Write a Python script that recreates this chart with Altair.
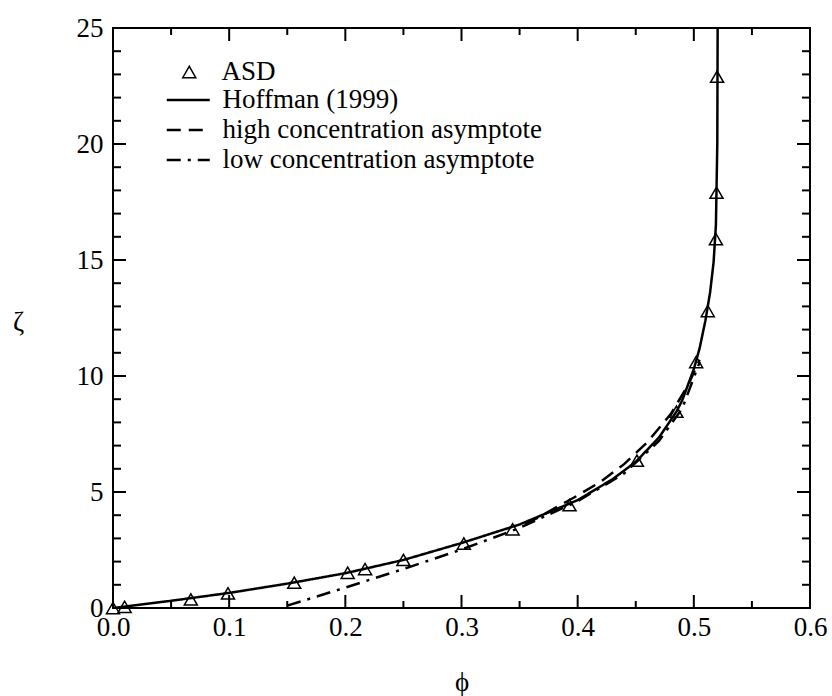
import altair as alt
import pandas as pd

# ---------------- data ----------------
asd_phi = [0.0, 0.01, 0.067, 0.099, 0.156, 0.202, 0.217, 0.250, 0.302, 0.344,
           0.393, 0.451, 0.485, 0.502, 0.512, 0.519, 0.5195, 0.520]
asd_zeta = [0.0, 0.05, 0.37, 0.63, 1.09, 1.52, 1.68, 2.07, 2.78, 3.39,
            4.43, 6.35, 8.46, 10.6, 12.8, 15.9, 17.9, 22.9]

hoffman_phi = [0.0, 0.05, 0.10, 0.15, 0.20, 0.25, 0.30, 0.35, 0.40, 0.43, 0.45,
               0.47, 0.485, 0.49, 0.50, 0.505, 0.51, 0.514, 0.517, 0.519, 0.5202, 0.5205]
hoffman_zeta = [0.0, 0.31, 0.65, 1.05, 1.50, 2.07, 2.80, 3.60, 4.65, 5.55, 6.30,
                7.35, 8.46, 8.95, 10.3, 11.2, 12.4, 13.6, 14.9, 16.5, 20.0, 25.0]

high_phi = [0.355, 0.37, 0.38, 0.40, 0.42, 0.44, 0.46, 0.48, 0.495, 0.505]
high_zeta = [3.62, 4.0, 4.3, 4.85, 5.45, 6.2, 7.15, 8.35, 9.6, 10.7]

low_phi = [0.15, 0.20, 0.25, 0.30, 0.35, 0.40, 0.44, 0.47, 0.49, 0.505]
low_zeta = [0.1, 0.88, 1.68, 2.52, 3.45, 4.6, 5.8, 7.2, 8.6, 10.6]

series_names = ["Hoffman (1999)", "high concentration asymptote", "low concentration asymptote"]
point_name = "ASD"

x_major = [0.0, 0.1, 0.2, 0.3, 0.4, 0.5, 0.6]
x_minor = [0.05, 0.15, 0.25, 0.35, 0.45, 0.55]
y_major = [0, 5, 10, 15, 20, 25]
y_minor = [v for v in range(1, 25) if v % 5 != 0]

# ---------------- tables ----------------
rows = []
for name, px, pz in zip(series_names, [hoffman_phi, high_phi, low_phi],
                        [hoffman_zeta, high_zeta, low_zeta]):
    for i, (a, b) in enumerate(zip(px, pz)):
        rows.append({"series": name, "phi": a, "zeta": b, "idx": i})
lines_df = pd.DataFrame(rows)
pts_df = pd.DataFrame({"series": point_name, "phi": asd_phi, "zeta": asd_zeta})
xmaj_df = pd.DataFrame({"phi": x_major})
xmin_df = pd.DataFrame({"phi": x_minor})
ymaj_df = pd.DataFrame({"zeta": y_major})
ymin_df = pd.DataFrame({"zeta": y_minor})

FONT = "Liberation Serif"
FS = 27
W, H = 697, 580

xs = alt.Scale(domain=[0, 0.6], nice=False, zero=False)
ys = alt.Scale(domain=[0, 25], nice=False, zero=False)

x_axis = alt.Axis(values=x_major, format=".1f", title="ϕ", ticks=False, domain=False,
                  grid=False, labelFont=FONT, labelFontSize=FS, labelColor="black",
                  labelPadding=6, labelFlush=False, labelOverlap=False,
                  titleFont=FONT, titleFontSize=27, titleFontWeight="normal",
                  titleColor="black", titleY=74, titleBaseline="middle")
y_axis = alt.Axis(values=y_major, format="d", title="ζ", ticks=False, domain=False,
                  grid=False, labelFont=FONT, labelFontSize=FS, labelColor="black",
                  labelPadding=10, labelFlush=False, labelOverlap=False,
                  titleFont=FONT, titleFontSize=27, titleFontWeight="normal",
                  titleColor="black", titleAngle=0, titleX=-95, titleY=294,
                  titleAlign="center", titleBaseline="middle")

X = lambda: alt.X("phi:Q", scale=xs, axis=x_axis)
Y = lambda: alt.Y("zeta:Q", scale=ys, axis=y_axis)

lines = alt.Chart(lines_df).mark_line(color="black", strokeWidth=2.5, clip=True).encode(
    x=X(), y=Y(),
    order=alt.Order("idx:Q"),
    strokeDash=alt.StrokeDash(
        "series:N",
        scale=alt.Scale(domain=series_names, range=[[1, 0], [14, 8], [14, 7, 3, 7]]),
        legend=alt.Legend(title=None, orient="none", legendX=52.25, legendY=57,
                          direction="vertical", columns=1, padding=0,
                          symbolType="stroke", symbolSize=1849, symbolStrokeWidth=2.5,
                          symbolStrokeColor="black", clipHeight=30, rowPadding=0,
                          labelFont=FONT, labelFontSize=FS, labelColor="black",
                          labelOffset=11.25, labelLimit=600),
    ),
)

points = alt.Chart(pts_df).mark_point(filled=False, color="black", strokeWidth=1.5,
                                      size=170, opacity=1, clip=False).encode(
    x=X(), y=Y(),
    shape=alt.Shape(
        "series:N",
        scale=alt.Scale(domain=[point_name], range=["triangle-up"]),
        legend=alt.Legend(title=None, orient="none", legendX=62.75, legendY=29,
                          direction="vertical", columns=1, padding=0,
                          symbolSize=170, symbolStrokeWidth=1.5,
                          symbolStrokeColor="black", symbolFillColor="transparent",
                          clipHeight=30, rowPadding=0,
                          labelFont=FONT, labelFontSize=FS, labelColor="black",
                          labelOffset=18.75, labelLimit=600),
    ),
)

tick_style = dict(color="black", strokeWidth=2)
xmaj_b = alt.Chart(xmaj_df).mark_rule(**tick_style).encode(x=X(), y=alt.value(H), y2=alt.value(H - 13))
xmaj_t = alt.Chart(xmaj_df).mark_rule(**tick_style).encode(x=X(), y=alt.value(0), y2=alt.value(13))
xmin_b = alt.Chart(xmin_df).mark_rule(**tick_style).encode(x=X(), y=alt.value(H), y2=alt.value(H - 7))
xmin_t = alt.Chart(xmin_df).mark_rule(**tick_style).encode(x=X(), y=alt.value(0), y2=alt.value(7))
ymaj_l = alt.Chart(ymaj_df).mark_rule(**tick_style).encode(y=Y(), x=alt.value(0), x2=alt.value(13))
ymaj_r = alt.Chart(ymaj_df).mark_rule(**tick_style).encode(y=Y(), x=alt.value(W), x2=alt.value(W - 13))
ymin_l = alt.Chart(ymin_df).mark_rule(**tick_style).encode(y=Y(), x=alt.value(0), x2=alt.value(8))
ymin_r = alt.Chart(ymin_df).mark_rule(**tick_style).encode(y=Y(), x=alt.value(W), x2=alt.value(W - 8))

chart = alt.layer(
    xmaj_b, xmaj_t, xmin_b, xmin_t, ymaj_l, ymaj_r, ymin_l, ymin_r, lines, points
).resolve_legend(
    shape="independent", strokeDash="independent"
).properties(
    width=W, height=H,
    autosize=alt.AutoSizeParams(type="none"),
    padding={"left": 113, "top": 28, "right": 22, "bottom": 88},
    background="white",
).configure_view(
    stroke="black", strokeWidth=2
).configure_axis(
    labelFont=FONT, titleFont=FONT
).configure_legend(
    labelFont=FONT
)

chart.save("out.html", embed_options={"renderer": "svg", "actions": False})
